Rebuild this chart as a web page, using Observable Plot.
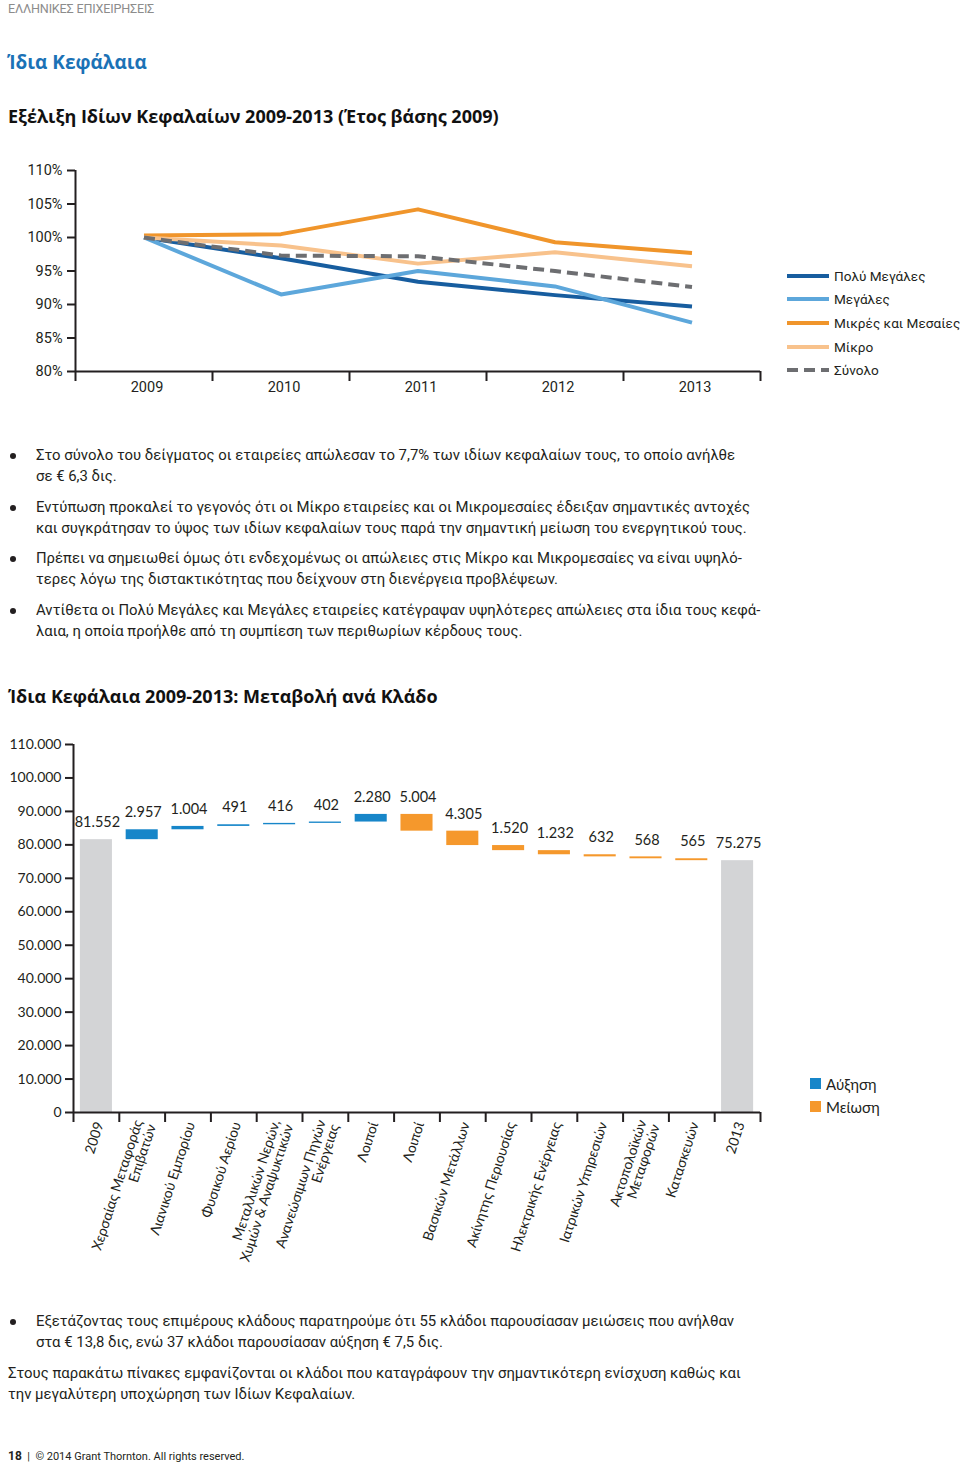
<!DOCTYPE html>
<html><head><meta charset="utf-8">
<script src="https://cdn.jsdelivr.net/npm/d3@7"></script>
<script src="https://cdn.jsdelivr.net/npm/@observablehq/plot@0.6"></script>
<style>
body{margin:0;width:960px;height:1465px;position:relative;background:#fff;font-family:Roboto,"Noto Sans",sans-serif;color:#231f20;overflow:hidden}
.abs{position:absolute;white-space:nowrap}
.hdr{left:8px;top:1px;font-size:12.6px;color:#8c8c8c;letter-spacing:-0.2px}
.h1{left:7px;top:49px;font-family:"Open Sans",sans-serif;font-weight:700;font-size:19px;color:#1b72b6}
.h2{left:8px;font-family:"Open Sans",sans-serif;font-weight:700;font-size:18px;color:#111}
.bul{left:0;font-size:14.9px;line-height:21px;color:#231f20}
.bul .dot{position:absolute;left:10px;top:8px;width:6px;height:6px;border-radius:50%;background:#231f20}
.bul .txt{position:absolute;left:36px;top:0}
.par{left:8px;font-size:14.9px;line-height:21px}
.leg{font-size:13.6px;color:#231f20}
.foot{left:8px;top:1449px;font-size:11px;color:#231f20}
#line,#wf{position:absolute;left:0}
#line{top:150px}
#wf{top:730px}
svg text{fill:#231f20}
</style></head><body>
<div class="abs hdr">ΕΛΛΗΝΙΚΕΣ ΕΠΙΧΕΙΡΗΣΕΙΣ</div>
<div class="abs h1">Ίδια Κεφάλαια</div>
<div class="abs h2" style="top:104px">Εξέλιξη Ιδίων Κεφαλαίων 2009-2013 (Έτος βάσης 2009)</div>
<div id="line"></div>
<div id="legend1"></div>
<div class="abs bul" style="top:445px"><span class="dot"></span><span class="txt">Στο σύνολο του δείγματος οι εταιρείες απώλεσαν το 7,7% των ιδίων κεφαλαίων τους, το οποίο ανήλθε<br>σε € 6,3 δις.</span></div>
<div class="abs bul" style="top:497px"><span class="dot"></span><span class="txt">Εντύπωση προκαλεί το γεγονός ότι οι Μίκρο εταιρείες και οι Μικρομεσαίες έδειξαν σημαντικές αντοχές<br>και συγκράτησαν το ύψος των ιδίων κεφαλαίων τους παρά την σημαντική μείωση του ενεργητικού τους.</span></div>
<div class="abs bul" style="top:548px"><span class="dot"></span><span class="txt">Πρέπει να σημειωθεί όμως ότι ενδεχομένως οι απώλειες στις Μίκρο και Μικρομεσαίες να είναι υψηλό-<br>τερες λόγω της διστακτικότητας που δείχνουν στη διενέργεια προβλέψεων.</span></div>
<div class="abs bul" style="top:600px"><span class="dot"></span><span class="txt">Αντίθετα οι Πολύ Μεγάλες και Μεγάλες εταιρείες κατέγραψαν υψηλότερες απώλειες στα ίδια τους κεφά-<br>λαια, η οποία προήλθε από τη συμπίεση των περιθωρίων κέρδους τους.</span></div>
<div class="abs h2" style="top:684px">Ίδια Κεφάλαια 2009-2013: Μεταβολή ανά Κλάδο</div>
<div id="wf"></div>
<div id="legend2"></div>
<div class="abs bul" style="top:1311px"><span class="dot"></span><span class="txt">Εξετάζοντας τους επιμέρους κλάδους παρατηρούμε ότι 55 κλάδοι παρουσίασαν μειώσεις που ανήλθαν<br>στα € 13,8 δις, ενώ 37 κλάδοι παρουσίασαν αύξηση € 7,5 δις.</span></div>
<div class="abs par" style="top:1363px">Στους παρακάτω πίνακες εμφανίζονται οι κλάδοι που καταγράφουν την σημαντικότερη ενίσχυση καθώς και<br>την μεγαλύτερη υποχώρηση των Ιδίων Κεφαλαίων.</div>
<div class="abs foot"><b style="font-size:12px">18</b> &nbsp;|&nbsp; © 2014 Grant Thornton. All rights reserved.</div>
<script>
// ---- Line chart data ----
const years = [2009, 2010, 2011, 2012, 2013];
const seriesNames = ["Πολύ Μεγάλες", "Μεγάλες", "Μικρές και Μεσαίες", "Μίκρο", "Σύνολο"];
const polyMegales = [100, 96.9, 93.4, 91.4, 89.7];
const megales = [100, 91.5, 95.0, 92.7, 87.3];
const mikresMesaies = [100.3, 100.5, 104.2, 99.3, 97.7];
const mikro = [100, 98.8, 96.1, 97.8, 95.7];
const synolo = [100, 97.3, 97.2, 95.0, 92.6];
const seriesColors = ["#175d9f", "#5da7db", "#f0952b", "#f8c28c", "#6d6e71"];
const pctTicks = [80, 85, 90, 95, 100, 105, 110];

// ---- Waterfall data ----
const sectors = ["2009", "Χερσαίας Μεταφοράς\nΕπιβατών", "Λιανικού Εμπορίου", "Φυσικού Αερίου",
  "Μεταλλικών Νερών,\nΧυμών & Αναψυκτικών", "Ανανεώσιμων Πηγών\nΕνέργειας", "Λοιποί", "Λοιποί",
  "Βασικών Μετάλλων", "Ακίνητης Περιουσίας", "Ηλεκτρικής Ενέργειας", "Ιατρικών Υπηρεσιών",
  "Ακτοπολοϊκών\nΜεταφορών", "Κατασκευών", "2013"];
const changes = [81552, 2957, 1004, 491, 416, 402, 2280, -5004, -4305, -1520, -1232, -632, -568, -565, 75275];
const kinds = ["total", "up", "up", "up", "up", "up", "up", "down", "down", "down", "down", "down", "down", "down", "total"];
const kindNames = ["Αύξηση", "Μείωση"];
const kindColors = ["#d3d4d6", "#1786c9", "#f5982c"];
const wfTicks = [0, 10000, 20000, 30000, 40000, 50000, 60000, 70000, 80000, 90000, 100000, 110000];

const loc = d3.formatLocale({decimal: ",", thousands: ".", grouping: [3], currency: ["€", ""]});
const fmt = loc.format(",d");

// ---- Line chart ----
const allValues = [polyMegales, megales, mikresMesaies, mikro, synolo];
const lineData = [];
seriesNames.forEach((name, k) => years.forEach((yr, j) => lineData.push({series: name, year: yr, value: allValues[k][j]})));
const axisFont = {fontSize: 14.5, fontFamily: "Roboto"};
const lineChart = Plot.plot({
  width: 780, height: 260, marginLeft: 75, marginRight: 20, marginTop: 20, marginBottom: 39,
  style: {fontFamily: "Roboto", fontSize: "14px", color: "#231f20", background: "transparent", overflow: "visible"},
  x: {domain: [2008.5, 2013.5], axis: null},
  y: {domain: [80, 110], axis: null},
  color: {domain: seriesNames, range: seriesColors},
  marks: [
    Plot.line(lineData.filter(d => d.series !== "Σύνολο"), {x: "year", y: "value", z: "series", stroke: "series", strokeWidth: 4, strokeLinecap: "butt"}),
    Plot.line(lineData.filter(d => d.series === "Σύνολο"), {x: "year", y: "value", stroke: "series", strokeWidth: 4, strokeDasharray: "11,6", strokeLinecap: "butt"}),
    Plot.ruleX([2008.5], {y1: 80, y2: 110, stroke: "#231f20", strokeWidth: 2}),
    Plot.ruleY([80], {x1: 2008.5, x2: 2013.5, stroke: "#231f20", strokeWidth: 2}),
    Plot.axisY({ticks: pctTicks, tickFormat: d => d + "%", tickSize: 8, tickPadding: 5, strokeWidth: 2, label: null, ...axisFont}),
    Plot.axisX({ticks: [2008.5, 2009.5, 2010.5, 2011.5, 2012.5, 2013.5], tickSize: 10, tickFormat: () => "", strokeWidth: 2, label: null}),
    Plot.axisX({ticks: years, tickSize: 0, tickPadding: 10, tickFormat: d => String(d), label: null, dx: 3, ...axisFont})
  ]
});
document.getElementById("line").appendChild(lineChart);

// legend 1
const leg1 = document.getElementById("legend1");
seriesNames.forEach((name, k) => {
  const top = [276, 299, 323, 347, 370][k];
  const dash = name === "Σύνολο" ? 'stroke-dasharray="11,6"' : "";
  leg1.insertAdjacentHTML("beforeend",
    `<div class="abs leg" style="left:787px;top:${top - 10}px;height:20px;line-height:20px">` +
    `<svg width="42" height="20" style="position:absolute;left:0;top:0"><line x1="0" x2="42" y1="10" y2="10" stroke="${seriesColors[k]}" stroke-width="4" ${dash}/></svg>` +
    `<span style="position:absolute;left:47px">${name}</span></div>`);
});

// ---- Waterfall ----
let run = 0;
const wf = sectors.map((s, i) => {
  let y1, y2;
  if (kinds[i] === "total") { y1 = 0; y2 = changes[i]; run = changes[i]; }
  else { y1 = run; run += changes[i]; y2 = run; }
  return {i, sector: s, kind: kinds[i], y1, y2, top: Math.max(y1, y2), label: fmt(Math.abs(changes[i]))};
});
const wfFont = {fontSize: 14, fontFamily: "Lato"};
const wfChart = Plot.plot({
  width: 780, height: 532, marginLeft: 73, marginRight: 20, marginTop: 14, marginBottom: 150,
  style: {fontFamily: "Lato", fontSize: "14px", color: "#231f20", background: "transparent", overflow: "visible"},
  x: {domain: [0, 15], axis: null},
  y: {domain: [0, 110000], axis: null},
  color: {domain: ["total", "up", "down"], range: kindColors},
  marks: [
    Plot.rectY(wf, {x1: d => d.i + 0.15, x2: d => d.i + 0.85, y1: "y1", y2: "y2", fill: "kind"}),
    Plot.text(wf, {x: d => d.i + 0.5, y: "top", text: "label", dy: -17, dx: 1, fontSize: 14.5, fontFamily: "Lato", fill: "#231f20"}),
    Plot.ruleX([0], {y1: 0, y2: 110000, stroke: "#231f20", strokeWidth: 2}),
    Plot.ruleY([0], {x1: 0, x2: 15, stroke: "#231f20", strokeWidth: 2}),
    Plot.axisY({ticks: wfTicks, tickFormat: fmt, tickSize: 8, tickPadding: 4, strokeWidth: 2, label: null, ...wfFont}),
    Plot.axisX({ticks: d3.range(0, 16), tickSize: 10, tickFormat: () => "", strokeWidth: 2, label: null}),
    Plot.axisX({ticks: d3.range(15).map(i => i + 0.5), tickSize: 0, tickPadding: 10, tickRotate: -72, label: null, dx: 3,
      tickFormat: v => sectors[Math.floor(v)], ...wfFont})
  ]
});
document.getElementById("wf").appendChild(wfChart);

// legend 2
const leg2 = document.getElementById("legend2");
kindNames.forEach((name, k) => {
  const top = [1084, 1107][k];
  leg2.insertAdjacentHTML("beforeend",
    `<div class="abs leg" style="left:810px;top:${top - 10}px;height:20px;line-height:20px;font-family:Lato;font-size:15px">` +
    `<span style="position:absolute;left:0;top:4px;width:11px;height:11px;background:${kindColors[k + 1]}"></span>` +
    `<span style="position:absolute;left:16px">${name}</span></div>`);
});
</script>
</body></html>
